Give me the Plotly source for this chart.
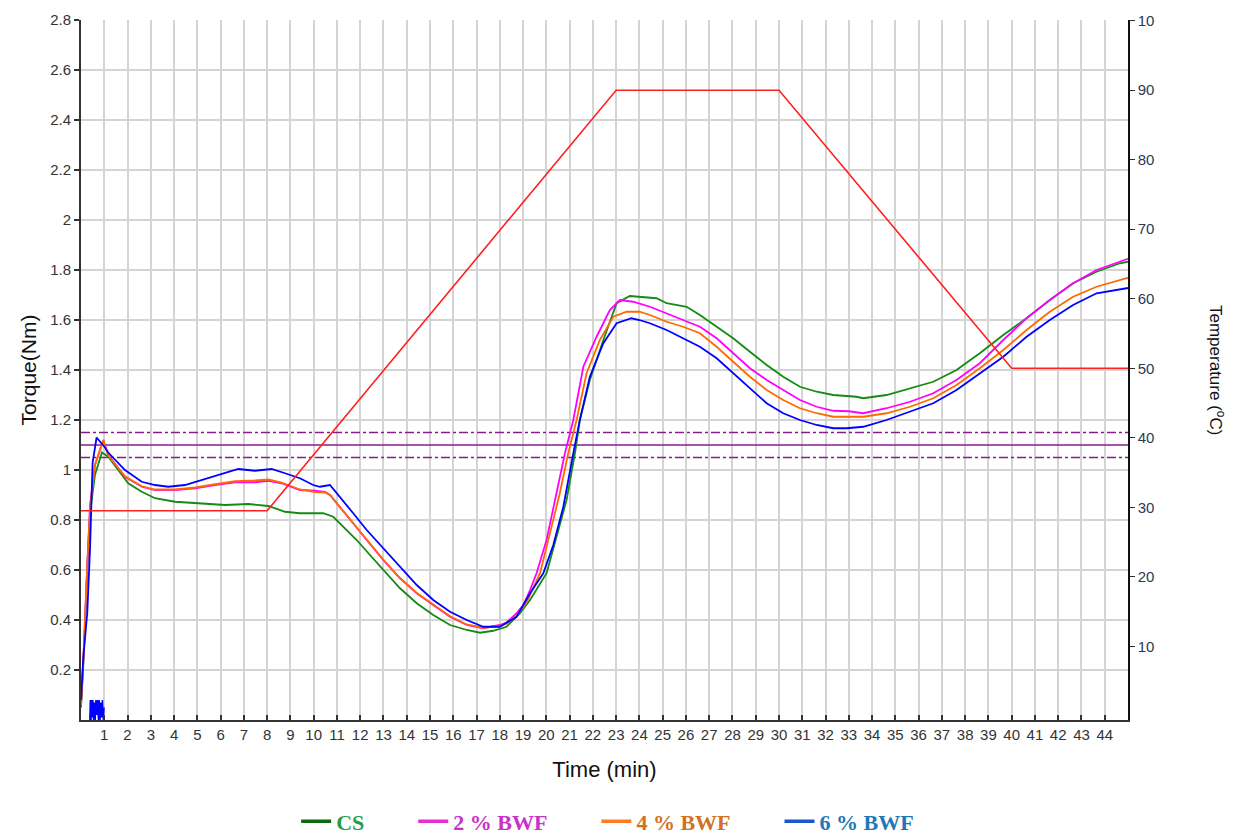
import plotly.graph_objects as go

# ---------------- data ----------------
cs_t = [0.0, 0.1, 0.27, 0.39, 0.6, 0.9, 1.17, 1.6, 2.03, 2.61, 3.18, 4.04, 5.19, 6.19, 7.19, 8.05,
        8.77, 9.41, 9.77, 10.41, 10.84, 11.27, 11.85, 12.42, 12.99, 13.71, 14.43, 15.14, 15.86,
        16.58, 17.15, 17.72, 18.29, 18.87, 19.3, 20.01, 20.87, 21.23, 21.44, 21.87, 22.45, 23.02,
        23.59, 24.02, 24.74, 25.17, 26.03, 26.6, 27.32, 28.03, 28.75, 29.47, 30.18, 30.9, 31.62,
        32.33, 33.33, 33.62, 34.62, 35.63, 36.63, 37.63, 38.63, 39.64, 40.64, 41.64, 42.64, 43.65,
        44.65, 45.0]
cs_v = [0.05, 0.22, 0.61, 0.83, 0.98, 1.07, 1.053, 1.0, 0.947, 0.913, 0.887, 0.873, 0.867, 0.86,
        0.864, 0.856, 0.833, 0.827, 0.827, 0.827, 0.813, 0.773, 0.72, 0.66, 0.6, 0.527, 0.467,
        0.42, 0.38, 0.36, 0.349, 0.357, 0.373, 0.427, 0.48, 0.587, 0.88, 1.067, 1.2, 1.36, 1.52,
        1.667, 1.696, 1.693, 1.687, 1.667, 1.653, 1.62, 1.573, 1.527, 1.473, 1.42, 1.373, 1.333,
        1.313, 1.3, 1.293, 1.287, 1.3, 1.327, 1.353, 1.4, 1.467, 1.54, 1.607, 1.68, 1.747, 1.793,
        1.827, 1.833]

bwf2_t = [0.0, 0.1, 0.27, 0.39, 0.6, 0.96, 1.17, 1.89, 2.61, 3.18, 4.04, 4.9, 5.76, 6.62, 7.48,
          8.05, 8.62, 9.41, 10.06, 10.49, 10.7, 11.13, 11.7, 12.28, 12.99, 13.71, 14.43, 15.14,
          15.86, 16.58, 17.29, 18.0, 18.29, 18.72, 19.01, 19.3, 19.58, 20.01, 20.44, 20.8, 21.16,
          21.59, 22.16, 22.73, 23.16, 23.73, 24.45, 25.17, 25.88, 26.6, 27.32, 28.03, 28.75, 29.47,
          30.18, 30.9, 31.62, 32.33, 33.0, 33.62, 34.62, 35.63, 36.63, 37.63, 38.63, 39.64, 40.64,
          41.64, 42.64, 43.65, 44.94, 45.0]
bwf2_v = [0.06, 0.24, 0.62, 0.86, 1.02, 1.12, 1.06, 0.973, 0.933, 0.92, 0.92, 0.927, 0.94, 0.951,
          0.951, 0.957, 0.947, 0.92, 0.917, 0.913, 0.9, 0.853, 0.787, 0.72, 0.64, 0.567, 0.507,
          0.46, 0.413, 0.38, 0.367, 0.38, 0.39, 0.427, 0.46, 0.52, 0.587, 0.72, 0.907, 1.067, 1.2,
          1.413, 1.533, 1.64, 1.68, 1.673, 1.653, 1.627, 1.6, 1.573, 1.527, 1.467, 1.407, 1.36,
          1.32, 1.28, 1.253, 1.237, 1.235, 1.227, 1.247, 1.273, 1.307, 1.36, 1.427, 1.52, 1.607,
          1.68, 1.747, 1.8, 1.843, 1.845]

bwf4_t = [0.0, 0.1, 0.27, 0.39, 0.6, 0.96, 1.17, 1.89, 2.61, 3.18, 4.04, 4.9, 5.76, 6.62, 7.48,
          8.05, 8.62, 9.41, 10.06, 10.49, 10.7, 11.13, 11.7, 12.28, 12.99, 13.71, 14.43, 15.14,
          15.86, 16.58, 17.29, 18.0, 18.29, 18.72, 19.15, 19.73, 20.15, 20.58, 20.94, 21.3, 21.73,
          22.3, 22.88, 23.45, 24.0, 24.45, 25.17, 25.88, 26.6, 27.32, 28.03, 28.75, 29.47, 30.18,
          30.9, 31.62, 32.33, 33.0, 33.62, 34.62, 35.63, 36.63, 37.63, 38.63, 39.64, 40.64, 41.64,
          42.64, 43.65, 44.94, 45.0]
bwf4_v = [0.06, 0.24, 0.62, 0.85, 1.02, 1.12, 1.058, 0.975, 0.935, 0.922, 0.922, 0.93, 0.943,
          0.955, 0.958, 0.962, 0.95, 0.922, 0.912, 0.91, 0.9, 0.853, 0.787, 0.722, 0.642, 0.568,
          0.508, 0.462, 0.415, 0.382, 0.368, 0.377, 0.385, 0.417, 0.47, 0.587, 0.74, 0.907, 1.067,
          1.2, 1.387, 1.52, 1.613, 1.633, 1.633, 1.62, 1.593, 1.573, 1.547, 1.493, 1.433, 1.373,
          1.32, 1.28, 1.247, 1.227, 1.213, 1.212, 1.213, 1.227, 1.253, 1.287, 1.34, 1.407, 1.48,
          1.56, 1.633, 1.693, 1.733, 1.767, 1.768]

bwf6_t = [0.0, 0.1, 0.27, 0.39, 0.5, 0.67, 1.03, 1.17, 1.89, 2.61, 3.18, 3.75, 4.47, 5.19, 6.05,
          6.76, 7.48, 8.19, 8.77, 9.41, 9.98, 10.27, 10.7, 11.13, 11.7, 12.28, 12.99, 13.71, 14.43,
          15.14, 15.86, 16.58, 17.29, 18.0, 18.72, 19.3, 19.87, 20.3, 20.73, 21.16, 21.44, 21.87,
          22.45, 23.02, 23.66, 24.0, 24.45, 25.17, 25.88, 26.6, 27.32, 28.03, 28.75, 29.47, 30.18,
          30.9, 31.62, 32.33, 32.9, 33.62, 34.62, 35.63, 36.63, 37.63, 38.63, 39.64, 40.64, 41.64,
          42.64, 43.65, 44.94, 45.0]
bwf6_v = [0.08, 0.25, 0.43, 0.69, 1.03, 1.13, 1.09, 1.07, 1.0, 0.953, 0.94, 0.933, 0.94, 0.96,
          0.987, 1.004, 0.997, 1.004, 0.987, 0.967, 0.94, 0.933, 0.94, 0.893, 0.827, 0.76, 0.687,
          0.613, 0.54, 0.48, 0.433, 0.4, 0.373, 0.373, 0.413, 0.507, 0.587, 0.7, 0.853, 1.067, 1.2,
          1.373, 1.507, 1.587, 1.607, 1.6, 1.587, 1.56, 1.527, 1.493, 1.447, 1.387, 1.327, 1.267,
          1.227, 1.2, 1.18, 1.167, 1.167, 1.173, 1.2, 1.233, 1.267, 1.32, 1.387, 1.453, 1.533, 1.6,
          1.66, 1.707, 1.727, 1.728]

# blue spikes near the baseline at the start of the test
spike_t = [0.38, 0.40, 0.43, 0.45, 0.48, 0.51, 0.54, 0.57, 0.61, 0.64, 0.68, 0.71, 0.75, 0.78,
           0.82, 0.85, 0.89, 0.92, 0.96, 0.99]
spike_v = [0.0, 0.08, 0.0, 0.08, 0.01, 0.08, 0.0, 0.07, 0.0, 0.08, 0.02, 0.08, 0.0, 0.08, 0.0,
           0.07, 0.01, 0.08, 0.0, 0.05]

temp_t = [0, 8, 23, 30, 40, 45]
temp_v = [29.5, 29.5, 90, 90, 50, 50]

limit_mid = 1.10
limit_hi = 1.15
limit_lo = 1.05

x_ticks = list(range(1, 45))
torque_ticks = [0.2, 0.4, 0.6, 0.8, 1.0, 1.2, 1.4, 1.6, 1.8, 2.0, 2.2, 2.4, 2.6, 2.8]
torque_labels = ["0.2", "0.4", "0.6", "0.8", "1", "1.2", "1.4", "1.6", "1.8", "2", "2.2", "2.4",
                 "2.6", "2.8"]
temp_ticks = [10, 20, 30, 40, 50, 60, 70, 80, 90, 100]
temp_labels = ["10", "20", "30", "40", "50", "60", "70", "80", "90", "10"]

series = [
    ("CS", cs_t, cs_v, "#138a13", "#0b6b0b", "#1f9e4a"),
    ("2 % BWF", bwf2_t, bwf2_v, "#ff00ff", "#e030d0", "#c832c8"),
    ("4 % BWF", bwf4_t, bwf4_v, "#ff6a00", "#ff7a22", "#d2711e"),
    ("6 % BWF", bwf6_t, bwf6_v, "#0000ff", "#1558d0", "#1f78b4"),
]

fig = go.Figure()

# reference band lines
for val, dash, w in [(limit_hi, "dashdot", 1.3), (limit_mid, "solid", 1.6), (limit_lo, "dashdot", 1.3)]:
    fig.add_trace(go.Scatter(x=[0, 45], y=[val, val], mode="lines",
                             line=dict(color="#8b1a8b", width=w, dash=dash),
                             showlegend=False, hoverinfo="skip"))

# temperature profile
fig.add_trace(go.Scatter(x=temp_t, y=temp_v, mode="lines", yaxis="y2",
                         line=dict(color="#ff2020", width=1.6), showlegend=False))

for name, t, v, col, lcol, tcol in series:
    fig.add_trace(go.Scatter(x=t, y=v, mode="lines", line=dict(color=col, width=1.8),
                             showlegend=False, name=name))

fig.add_trace(go.Scatter(x=spike_t, y=spike_v, mode="lines", line=dict(color="#0000ff", width=1.5),
                         showlegend=False))

# legend entries
pad = "\u00a0" * 8
for name, t, v, col, lcol, tcol in series:
    fig.add_trace(go.Scatter(x=[None], y=[None], mode="lines", line=dict(color=lcol, width=3.5),
                             name=f'<span style="color:{tcol}"><b>{name}</b></span>{pad}'))

fig.update_layout(
    width=1233, height=828,
    margin=dict(l=73, r=113, t=12, b=116, autoexpand=False),
    paper_bgcolor="white", plot_bgcolor="white",
    font=dict(family="Liberation Sans, Arial, sans-serif", color="#333333"),
    xaxis=dict(range=[0, 45], tickvals=x_ticks, ticktext=[str(i) for i in x_ticks],
               automargin=False,
               showgrid=True, gridcolor="#d4d4d4", gridwidth=1.6,
               showline=True, linecolor="#333333", linewidth=2,
               ticks="inside", ticklen=5, tickcolor="#333333", tickwidth=1.5,
               tickfont=dict(size=15, color="#333333"), zeroline=False,
               title=dict(text="Time (min)", font=dict(size=22, color="#111111"), standoff=20)),
    yaxis=dict(range=[0, 2.8], tickvals=torque_ticks, ticktext=torque_labels,
               automargin=False,
               showgrid=True, gridcolor="#d4d4d4", gridwidth=1.6,
               showline=True, linecolor="#333333", linewidth=2,
               ticks="outside", ticklen=5, tickcolor="#333333", tickwidth=1.5,
               tickfont=dict(size=15, color="#333333"), zeroline=False,
               title=dict(text="Torque(Nm)", font=dict(size=21, color="#111111"), standoff=8)),
    yaxis2=dict(range=[-0.6, 100.1], overlaying="y", side="right", anchor="x",
                automargin=False,
                tickvals=temp_ticks, ticktext=temp_labels, showgrid=False,
                showline=True, linecolor="#111111", linewidth=1.5,
                ticks="outside", ticklen=5, tickcolor="#333333", tickwidth=1.2,
                tickfont=dict(size=15, color="#2b3a55"), zeroline=False),
    legend=dict(orientation="h", x=0.524, xanchor="center", y=-0.115, yanchor="top",
                font=dict(family="Liberation Serif, Times New Roman, serif", size=22),
                tracegroupgap=0, bgcolor="rgba(0,0,0,0)"),
    showlegend=True,
)

fig.add_annotation(text="Temperature (<sup>o</sup>C)", xref="paper", yref="paper",
                   x=1.0, xshift=102, y=0.5, textangle=90, showarrow=False,
                   font=dict(size=17, color="#111111"))

fig.write_html("out.html")
